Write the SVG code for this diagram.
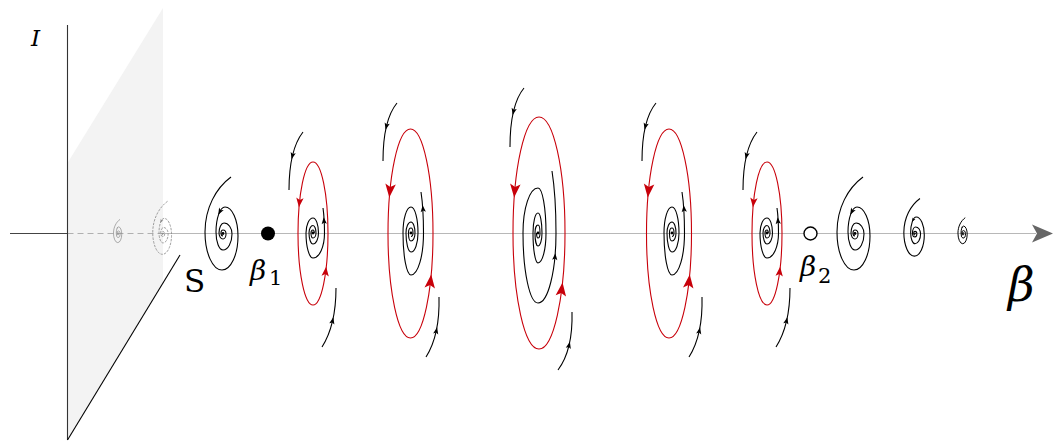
<svg xmlns="http://www.w3.org/2000/svg" width="1061" height="443" viewBox="0 0 1061 443">
<style>
.k{fill:none;stroke:#000;stroke-width:1.1}
.r{fill:none;stroke:#c8000a;stroke-width:1.1}
.ab{fill:#000;stroke:none}
.ar{fill:#c8000a;stroke:none}
</style>
<defs>
<path id="ah" d="M5,0 L-4,-3.5 L-2,0 L-4,3.5 Z"/>
<path id="sp" fill="none" vector-effect="non-scaling-stroke" d="M 231 177 C 216 188 205 208 205 232 A 17 38 0 0 0 222 270 A 16 34 0 0 0 238 236 A 13 29 0 0 0 225 207 A 9 25 0 0 0 216 232 A 7 18 0 0 0 223 250 A 9 16 0 0 0 232 234 A 8 11 0 0 0 224 223 A 5 10 0 0 0 219 233 A 4 6 0 0 0 223 239 A 3 5 0 0 0 226 234 A 3 4 0 0 0 223 230 A 2 3 0 0 0 221 233 A 2 3 0 0 0 223 236"/>
<g id="spiral">
<use href="#sp"/>
<circle cx="223" cy="233.5" r="1.4" stroke="none"/>
<use href="#ah" stroke="none" transform="translate(220,211.5) rotate(118) scale(0.75)"/>
</g>
<g id="cycS">
<ellipse cx="313" cy="233.5" rx="15" ry="71.5" class="r"/>
<use href="#ah" class="ar" transform="translate(299.5,202) rotate(96) scale(1.05)"/>
<use href="#ah" class="ar" transform="translate(325.6,272) rotate(-84) scale(1.05)"/>
<path class="k" d="M 303 132 Q 289 150 289 190"/>
<use href="#ah" class="ab" transform="translate(292.5,155.5) rotate(104) scale(0.75)"/>
<path class="k" d="M 336 288 Q 336 325 322 347"/>
<use href="#ah" class="ab" transform="translate(332.5,321) rotate(-77) scale(0.75)"/>
<path class="k" d="M 323 208 C 324 215 324.5 224 324.5 233 A 11.5 25 0 0 1 313 258 A 7 25 0 0 1 306 233 A 7 15 0 0 1 313 218 A 5.5 15 0 0 1 318.5 233 A 5.5 11 0 0 1 313 244 A 4 11 0 0 1 309 233 A 4 7.5 0 0 1 313 225.5 A 3 7.5 0 0 1 316 233 A 3 5 0 0 1 313 238 A 2 5 0 0 1 311 233 A 2 3 0 0 1 313 230 A 1.3 3 0 0 1 314.3 233"/>
<circle cx="313" cy="233" r="1.4"/>
<use href="#ah" class="ab" transform="translate(324,221) rotate(-95) scale(0.75)"/>
</g>
<g id="red5">
<ellipse cx="410.5" cy="233.5" rx="22.5" ry="104.5" class="r"/>
<use href="#ah" class="ar" transform="translate(390,190) rotate(95.6) scale(1.5)"/>
<use href="#ah" class="ar" transform="translate(430.4,282) rotate(-83.6) scale(1.5)"/>
</g>
<g id="up5">
<path class="k" d="M 397 103 Q 383 120 383 161"/>
<use href="#ah" class="ab" transform="translate(386.5,126) rotate(103.6) scale(0.75)"/>
</g>
<g id="lo5">
<path class="k" d="M 439 297 Q 440 335 426 357"/>
<use href="#ah" class="ab" transform="translate(436.3,331) rotate(-77.8) scale(0.75)"/>
</g>
<g id="in5">
<path class="k" d="M 421 192 C 423 205 423.5 220 423.5 233 A 12.5 42 0 0 1 411 275 A 8 42 0 0 1 403 233 A 8 26 0 0 1 411 207 A 7 26 0 0 1 418 233 A 7 19 0 0 1 411 252 A 5 19 0 0 1 406 233 A 5 11 0 0 1 411 222 A 4 11 0 0 1 415 233 A 4 8 0 0 1 411 241 A 2.5 8 0 0 1 408.5 233 A 2.5 5 0 0 1 411 228 A 2 5 0 0 1 413 233 A 2 3.5 0 0 1 411 236.5"/>
<circle cx="411" cy="233" r="1.4"/>
<use href="#ah" class="ab" transform="translate(423,209) rotate(-95) scale(0.75)"/>
</g>
</defs>

<rect width="1061" height="443" fill="#fff"/>

<g id="plane">
<polygon points="67.5,163 163,8 163,283 67.5,440" fill="#f3f3f3"/>
</g>

<g id="connectors">
<line x1="10" y1="233.5" x2="67.5" y2="233.5" stroke="#444" stroke-width="1"/>
<line x1="67.5" y1="233.5" x2="160" y2="233.5" stroke="#b0b0b0" stroke-width="1" stroke-dasharray="6 4"/>
<line x1="160" y1="233.5" x2="1036" y2="233.5" stroke="#b8b8b8" stroke-width="1"/>
<path d="M1053,233.5 L1032,224.5 L1037,233.5 L1032,242.5 Z" fill="#666"/>
<line x1="67.5" y1="25" x2="67.5" y2="440" stroke="#333" stroke-width="1.1"/>
<line x1="67.5" y1="440" x2="180" y2="255" stroke="#000" stroke-width="1.1"/>
</g>

<g id="spiral-1">
<use href="#spiral" stroke="#8a8a8a" fill="#8a8a8a" stroke-width="0.7" transform="translate(118,233.5) scale(0.25) translate(-223,-233.5)"/>
</g>
<g id="spiral-2">
<use href="#spiral" stroke="#888" fill="#888" stroke-width="0.8" stroke-dasharray="2.5 1.2" transform="translate(163,233.5) scale(0.57) translate(-223,-233.5)"/>
</g>
<g id="spiral-3">
<use href="#spiral" stroke="#000" fill="#000" stroke-width="1.1"/>
</g>

<g id="beta1">
<circle cx="268" cy="233.5" r="7" fill="#000"/>
<text x="250" y="280" font-family="'DejaVu Serif', serif" font-style="italic" font-size="28">β</text>
<text x="269" y="285" font-family="'DejaVu Serif', serif" font-size="21">1</text>
</g>

<g id="cycle-1"><use href="#cycS"/></g>
<g id="cycle-2"><use href="#red5"/><use href="#up5"/><use href="#lo5"/><use href="#in5"/></g>
<g id="cycle-3">
<ellipse cx="539" cy="233" rx="26" ry="116" class="r"/>
<use href="#ah" class="ar" transform="translate(514.8,190) rotate(95) scale(1.5)"/>
<use href="#ah" class="ar" transform="translate(561.6,290) rotate(-82.8) scale(1.5)"/>
<path class="k" d="M 524 88 Q 510 105 510 147"/>
<use href="#ah" class="ab" transform="translate(513.5,111.3) rotate(103.3) scale(0.75)"/>
<path class="k" d="M 572 312 Q 573 350 558 370"/>
<use href="#ah" class="ab" transform="translate(569,345.5) rotate(-76.4) scale(0.75)"/>
<path class="k" d="M 552 171 C 555 190 556 212 556 233 A 18 70 0 0 1 538 303 A 15 70 0 0 1 523 233 A 15 45 0 0 1 538 188 A 8 45 0 0 1 546 233 A 8 30 0 0 1 538 263 A 5 30 0 0 1 533 233 A 5 20 0 0 1 538 213 A 4 20 0 0 1 542 233 A 4 13 0 0 1 538 246 A 3 13 0 0 1 535 233 A 3 8 0 0 1 538 225 A 2 8 0 0 1 540 233 A 2 5 0 0 1 538 238 A 1.5 5 0 0 1 536.5 233"/>
<circle cx="538" cy="233" r="1.4"/>
<use href="#ah" class="ab" transform="translate(555,257) rotate(-84.6) scale(0.75)"/>
</g>
<g id="cycle-4">
<use href="#red5" transform="translate(258.5,0)"/>
<use href="#up5" transform="translate(259,0)"/>
<use href="#lo5" transform="translate(263,0)"/>
<use href="#in5" transform="translate(261,0)"/>
</g>
<g id="cycle-5"><use href="#cycS" transform="translate(454,0)"/></g>

<g id="beta2">
<circle cx="810.5" cy="233.5" r="6.5" fill="#fff" stroke="#000" stroke-width="1.4"/>
<text x="800" y="276" font-family="'DejaVu Serif', serif" font-style="italic" font-size="28">β</text>
<text x="818" y="283" font-family="'DejaVu Serif', serif" font-size="21">2</text>
</g>

<g id="spiral-4">
<use href="#spiral" stroke="#000" fill="#000" stroke-width="1.1" transform="translate(632,0)"/>
</g>
<g id="spiral-5">
<use href="#spiral" stroke="#000" fill="#000" stroke-width="1.1" transform="translate(915,233.5) scale(0.62) translate(-223,-233.5)"/>
</g>
<g id="spiral-6">
<use href="#spiral" stroke="#000" fill="#000" stroke-width="1" transform="translate(963,233.5) scale(0.28) translate(-223,-233.5)"/>
</g>

<g id="labels">
<text x="31" y="46" font-family="'DejaVu Serif', serif" font-style="italic" font-size="23">I</text>
<text x="184" y="292" font-family="'DejaVu Serif', serif" font-size="31">S</text>
<text x="1008" y="301" font-family="'DejaVu Serif', serif" font-style="italic" font-size="46">β</text>
</g>
</svg>
